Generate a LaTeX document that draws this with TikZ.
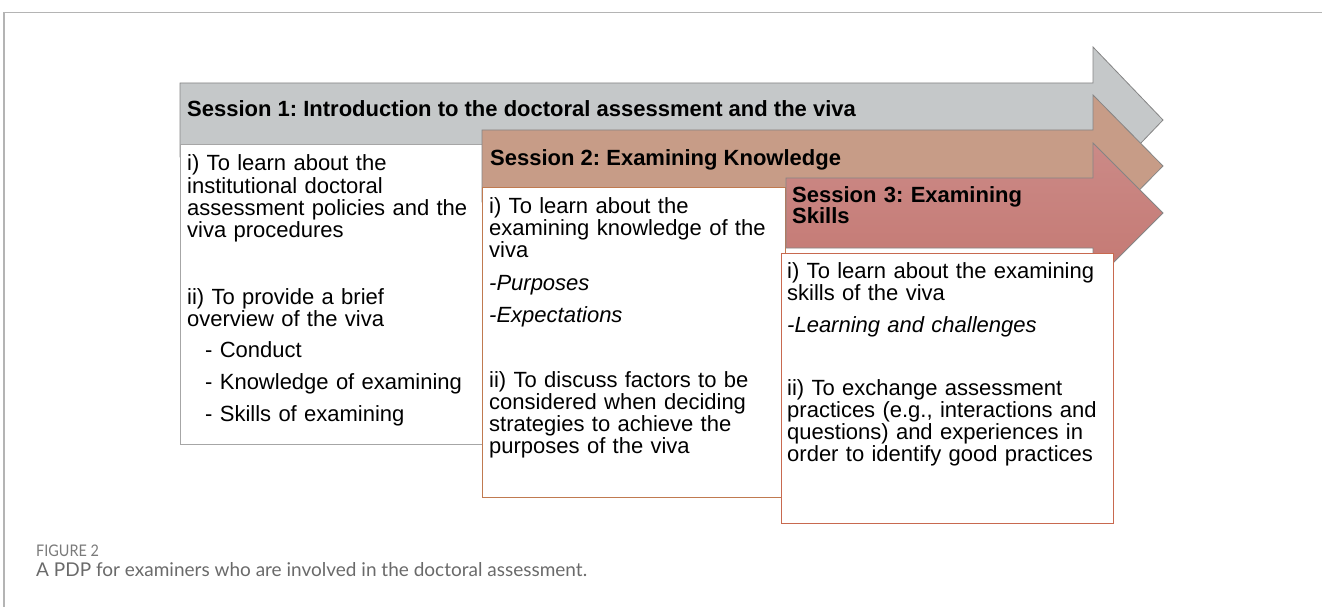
\documentclass[tikz,border=0pt]{standalone}
\usepackage{fontspec}
\setmainfont{Liberation Sans}
\newfontfamily\capfont{Lato}
\newfontfamily\figfont[FakeStretch=0.9]{Lato}
\frenchspacing
\definecolor{framec}{HTML}{B4B4B4}
\definecolor{arrowln}{HTML}{858585}
\definecolor{grayA}{HTML}{C5C8C9}
\definecolor{brownA}{HTML}{C79C87}
\definecolor{redA}{HTML}{CB8A87}
\definecolor{redB}{HTML}{C47872}
\definecolor{boxA}{HTML}{A6A6A6}
\definecolor{boxB}{HTML}{C07A50}
\definecolor{boxC}{HTML}{C8694F}
\definecolor{capgray}{HTML}{6A6A6A}
\definecolor{figgray}{HTML}{7A7A7A}
\tikzset{
  arrowshape/.style={draw=arrowln, line width=0.8pt, line join=miter},
  boxshape/.style={fill=white, line width=1pt},
  hdr/.style={inner sep=0pt, anchor=base west, font=\frenchspacing\bfseries\fontsize{22}{21}\selectfont, align=left},
  txt/.style={inner sep=0pt, anchor=base west, font=\frenchspacing\fontsize{22}{22.3}\selectfont, align=left},
}
\begin{document}
\begin{tikzpicture}[x=1pt,y=-1pt]
\useasboundingbox (0,0) rectangle (1322,607);
% page frame
\draw[framec, line width=1.5pt] (4,607) -- (4,12.5) -- (1322,12.5);

% Session 1 arrow and box
\draw[arrowshape, fill=grayA] (180,83) -- (1093,83) -- (1093,47) -- (1163,120) -- (1093,193) -- (1093,157) -- (180,157) -- cycle;
\draw[boxshape, draw=boxA] (180,145) rectangle (520,444);
\node[hdr] (h1) at (187,117) {Session 1: Introduction to the doctoral assessment and the viva};
\node[txt, text width=320pt] (t1) at (187,171) {i) To learn about the\\ institutional doctoral\\ assessment policies and the\\ viva procedures\\[44pt]
ii) To provide a brief\\ overview of the viva\\[9pt]
\hspace*{18pt}- Conduct\\[9.7pt]
\hspace*{18pt}- Knowledge of examining\\[9.7pt]
\hspace*{18pt}- Skills of examining};

% Session 2 arrow and box
\draw[arrowshape, fill=brownA] (482,130) -- (1093,130) -- (1093,95) -- (1163,166) -- (1093,237) -- (1093,202) -- (482,202) -- cycle;
\draw[boxshape, draw=boxB] (482,187) rectangle (785,497);
\node[hdr] (h2) at (490,165) {Session 2: Examining Knowledge};
\node[txt, text width=300pt] (t2) at (489,213) {i) To learn about the\\ examining knowledge of the\\ viva\\[10.1pt]
\textit{-Purposes}\\[9.7pt]
\textit{-Expectations}\\[42.7pt]
ii) To discuss factors to be\\ considered when deciding\\ strategies to achieve the\\ purposes of the viva};

% Session 3 arrow and box
\draw[arrowshape, top color=redA, bottom color=redB] (786,178) -- (1093,178) -- (1093,143) -- (1163,213) -- (1093,283) -- (1093,248) -- (786,248) -- cycle;
\draw[boxshape, draw=boxC] (781,253) rectangle (1113,523);
\node[hdr, text width=280pt] (h3) at (792,202) {Session 3: Examining\\ Skills};
\node[txt, text width=330pt] (t3) at (787,278) {i) To learn about the examining\\ skills of the viva\\[9.4pt]
\textit{-Learning and challenges}\\[40.7pt]
ii) To exchange assessment\\ practices (e.g., interactions and\\ questions) and experiences in\\ order to identify good practices};

% caption
\node[inner sep=0pt, anchor=base west, text=figgray, font=\figfont\fontsize{16}{16}\selectfont] (fig) at (36,556) {FIGURE 2};
\node[inner sep=0pt, anchor=base west, text=capgray, font=\capfont\fontsize{19}{19}\selectfont] (cap) at (36,576) {A PDP for examiners who are involved in the doctoral assessment.};
\end{tikzpicture}
\end{document}
